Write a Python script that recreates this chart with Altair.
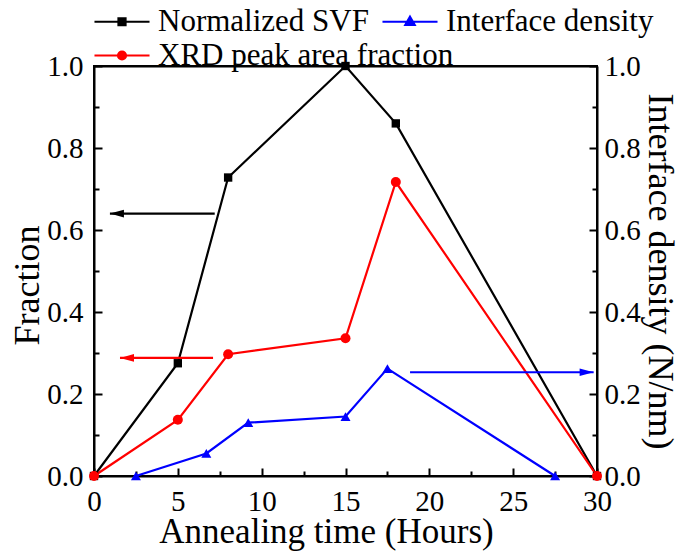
import altair as alt
import pandas as pd

# ---- data ----
time_main = [0, 5, 8, 15, 18, 30]
svf = [0.0, 0.275, 0.728, 1.0, 0.86, 0.0]
xrd = [0.0, 0.137, 0.297, 0.336, 0.717, 0.0]
time_if = [2.5, 6.7, 9.2, 15, 17.5, 27.5]
interface = [0.0, 0.055, 0.13, 0.145, 0.262, 0.0]

series_names = ["Normalized SVF", "Interface density", "XRD peak area fraction"]
series_colors = ["#000000", "#0000ff", "#ff0000"]
marker_shapes = ["square", "triangle-up", "circle"]
marker_sizes = [70, 100, 100]

# arrows pointing to the axis each series belongs to
arrow_start = [7.2, 7.1, 18.85]
arrow_tip = [0.95, 1.55, 29.8]
arrow_y = [0.64, 0.288, 0.253]
arrow_colors = ["#000000", "#ff0000", "#0000ff"]
arrow_heads = ["M0,0L2,-0.55L2,0.55Z", "M0,0L2,-0.55L2,0.55Z", "M0,0L-2,-0.55L-2,0.55Z"]

x_major = [0, 5, 10, 15, 20, 25, 30]
x_minor = [2.5, 7.5, 12.5, 17.5, 22.5, 27.5]
y_major = [0.0, 0.2, 0.4, 0.6, 0.8, 1.0]
y_minor = [0.1, 0.3, 0.5, 0.7, 0.9]

# legend symbols: a line with the marker in its middle
legend_paths = [
    "M-1.72,0H1.72M-0.22,-0.22H0.22V0.22H-0.22Z",
    "M-1.72,0H1.72M0,-0.31L0.29,0.19H-0.29Z",
    "M-1.72,0H1.72M0.25,0A0.25,0.25,0,1,1,-0.25,0A0.25,0.25,0,1,1,0.25,0Z",
]

# ---- tables ----
rows = []
for name, xs_, ys_ in [
    (series_names[0], time_main, svf),
    (series_names[1], time_if, interface),
    (series_names[2], time_main, xrd),
]:
    i = series_names.index(name)
    for t, v in zip(xs_, ys_):
        rows.append(dict(series=name, time=t, value=v, color=series_colors[i],
                         shape=marker_shapes[i], msize=marker_sizes[i]))
df = pd.DataFrame(rows)

arrows = pd.DataFrame(dict(x1=arrow_start, tip=arrow_tip, y=arrow_y,
                           color=arrow_colors, head=arrow_heads))

FONT = "Liberation Serif"
xs = alt.Scale(domain=[0, 30], nice=False, zero=False)
ys = alt.Scale(domain=[0, 1], nice=False, zero=False)


def tick_axis(orient, values, size):
    return alt.Axis(orient=orient, values=values, labels=False, domain=False,
                    grid=False, ticks=True, tickSize=size, tickWidth=2,
                    tickColor="black", offset=-size, title=None)


def main_axis(orient, values, fmt, title, label_pad, title_pad, tsize, **kw):
    return alt.Axis(orient=orient, values=values, format=fmt, ticks=False,
                    domain=True, domainColor="black", domainWidth=2,
                    grid=False, labelFont=FONT, labelFontSize=29,
                    labelColor="black", labelPadding=label_pad, labelFlush=False,
                    labelOverlap=False, title=title, titleFont=FONT,
                    titleFontSize=tsize, titleFontWeight="normal",
                    titleColor="black", titlePadding=title_pad, **kw)


top_border = alt.Axis(orient="top", domain=True, domainColor="black", domainWidth=2,
                      ticks=False, labels=False, grid=False, title=None)

lines = alt.Chart(df).mark_line(strokeWidth=2.2).encode(
    x=alt.X("time:Q", scale=xs,
            axis=main_axis("bottom", x_major, "d", "Annealing time (Hours)", 11, -2, 35,
                           titleX=232)),
    y=alt.Y("value:Q", scale=ys,
            axis=main_axis("left", y_major, ".1f", "Fraction", 11, 0, 36, titleY=219)),
    color=alt.Color("color:N", scale=None),
    detail="series:N",
)

markers = alt.Chart(df).mark_point(filled=True, opacity=1).encode(
    x=alt.X("time:Q", scale=xs, axis=tick_axis("bottom", x_major, 8)),
    y=alt.Y("value:Q", scale=ys,
            axis=main_axis("right", y_major, ".1f", "Interface density (N/nm)", 7, 0, 36)),
    color=alt.Color("color:N", scale=None),
    shape=alt.Shape("shape:N", scale=None),
    size=alt.Size("msize:Q", scale=None),
)

arrow_lines = alt.Chart(arrows).mark_rule(strokeWidth=2.2).encode(
    x=alt.X("x1:Q", scale=xs, axis=tick_axis("bottom", x_minor, 5)),
    x2="tip:Q",
    y=alt.Y("y:Q", scale=ys, axis=tick_axis("left", y_major, 8)),
    color=alt.Color("color:N", scale=None),
)

arrow_points = alt.Chart(arrows).mark_point(filled=True, opacity=1, size=196).encode(
    x=alt.X("tip:Q", scale=xs, axis=top_border),
    y=alt.Y("y:Q", scale=ys, axis=tick_axis("left", y_minor, 5)),
    color=alt.Color("color:N", scale=None),
    shape=alt.Shape("head:N", scale=None),
)


def legend_layer(idx, legend_y, yaxis):
    names = [series_names[i] for i in idx]
    cols = [series_colors[i] for i in idx]
    paths = [legend_paths[i] for i in idx]
    leg = alt.Legend(orient="none", legendX=10.5, legendY=legend_y,
                     direction="horizontal", title=None,
                     labelFont=FONT, labelFontSize=31, labelColor="black",
                     symbolSize=1024, symbolStrokeWidth=2.2, labelOffset=18.5,
                     columnPadding=8, labelLimit=0, symbolOpacity=1, padding=0)
    return alt.Chart(df).mark_point(opacity=1, strokeWidth=2.2).encode(
        x=alt.X("time:Q", scale=xs, axis=None),
        y=alt.Y("value:Q", scale=ys, axis=yaxis),
        fill=alt.Fill("series:N", scale=alt.Scale(domain=names, range=cols), legend=leg),
        stroke=alt.Stroke("series:N", scale=alt.Scale(domain=names, range=cols), legend=leg),
        shape=alt.Shape("series:N", scale=alt.Scale(domain=names, range=paths), legend=leg),
    ).transform_filter("datum.time < -1000")


legend_row1 = legend_layer([0, 1], -62, tick_axis("right", y_major, 8))
legend_row2 = legend_layer([2], -28, tick_axis("right", y_minor, 5))

chart = alt.layer(
    lines, markers, arrow_lines, arrow_points, legend_row1, legend_row2
).resolve_axis(
    x="independent", y="independent"
).resolve_scale(
    fill="independent", stroke="independent", shape="independent"
).properties(
    width=503, height=410,
    background="white",
    autosize=alt.AutoSizeParams(type="none"),
    padding={"left": 86, "top": 58, "right": 80, "bottom": 75},
).configure_view(
    stroke="black", strokeWidth=2
).configure_axis(
    labelFont=FONT, titleFont=FONT
)

chart.save("out.html", embed_options={"renderer": "svg", "actions": False})
